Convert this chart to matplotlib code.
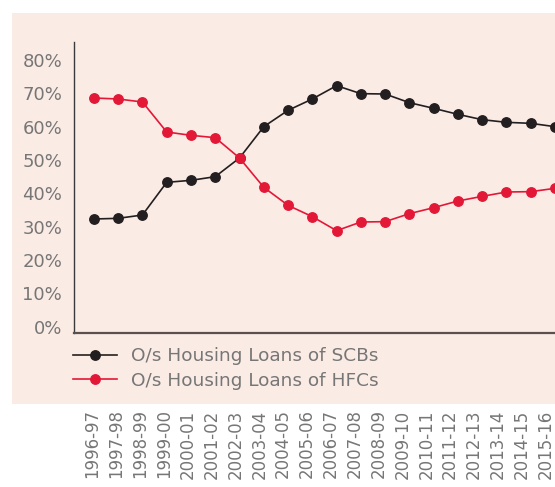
import matplotlib
matplotlib.use('Agg')
import matplotlib.pyplot as plt
from matplotlib.patches import Rectangle

# Data (share of outstanding housing loans, %)
years = ['1996-97', '1997-98', '1998-99', '1999-00', '2000-01', '2001-02', '2002-03',
         '2003-04', '2004-05', '2005-06', '2006-07', '2007-08', '2008-09', '2009-10',
         '2010-11', '2011-12', '2012-13', '2013-14', '2014-15', '2015-16']
scb = [32.3, 32.5, 33.5, 43.3, 43.9, 45.0, 50.6, 60.0, 64.9, 68.3,
       72.3, 69.9, 69.8, 67.2, 65.5, 63.7, 62.1, 61.3, 61.0, 60.0]
hfc = [68.6, 68.3, 67.4, 58.4, 57.4, 56.7, 50.6, 41.8, 36.4, 33.0,
       28.8, 31.4, 31.5, 33.9, 35.7, 37.7, 39.1, 40.4, 40.5, 41.5]
yticks = [0, 10, 20, 30, 40, 50, 60, 70, 80]

plt.rcParams['font.family'] = ['DejaVu Sans']
text_color = '#767676'
black = '#231f20'
red = '#e31837'

fig = plt.figure(figsize=(5.55, 4.87), dpi=100)

# pink panel behind plot + legend
fig.patches.append(Rectangle((12 / 555, 1 - 404 / 487), 543 / 555, 391 / 487,
                             transform=fig.transFigure, facecolor='#fbebe5',
                             edgecolor='none', zorder=-10))

ax = fig.add_axes([74 / 555, 1 - 333 / 487, 1 - 74 / 555, (333 - 42) / 487])
ax.set_facecolor('none')

x = list(range(len(years)))
ax.plot(x, scb, color=black, linewidth=1.2, marker='o', markersize=6.8,
        label='O/s Housing Loans of SCBs')
ax.plot(x, hfc, color=red, linewidth=1.2, marker='o', markersize=6.8,
        label='O/s Housing Loans of HFCs')

ax.set_xlim(-0.82, 19)
ax.set_ylim(-1.9, 85.4)

ax.set_yticks(yticks)
ax.set_yticklabels([f'{v}%' for v in yticks])
ax.set_xticks([])
ax.tick_params(axis='y', length=0, pad=8.5, labelsize=13, labelcolor=text_color)

for side in ['top', 'right']:
    ax.spines[side].set_visible(False)
ax.spines['left'].set_color('#3a3a3a')
ax.spines['left'].set_linewidth(1.0)
ax.spines['bottom'].set_color('#5a5050')
ax.spines['bottom'].set_linewidth(1.6)

# year labels sit a little tighter than the points, below the panel
lab = ax.twiny()
lab.set_xlim(-0.776, 19.40)
lab.set_xticks(x)
lab.set_xticklabels(years, rotation=90)
lab.xaxis.set_ticks_position('bottom')
lab.xaxis.set_label_position('bottom')
lab.tick_params(axis='x', length=0, pad=55, labelsize=12, labelcolor=text_color)
for s in lab.spines.values():
    s.set_visible(False)

leg = fig.legend(loc='upper left', bbox_to_anchor=(73 / 555, 1 - 347 / 487),
                 frameon=False, fontsize=13.3, handlelength=2.4, handletextpad=0.75,
                 labelspacing=0.36, borderpad=0, borderaxespad=0)
for t in leg.get_texts():
    t.set_color(text_color)

fig.savefig('out.png', dpi=100)
